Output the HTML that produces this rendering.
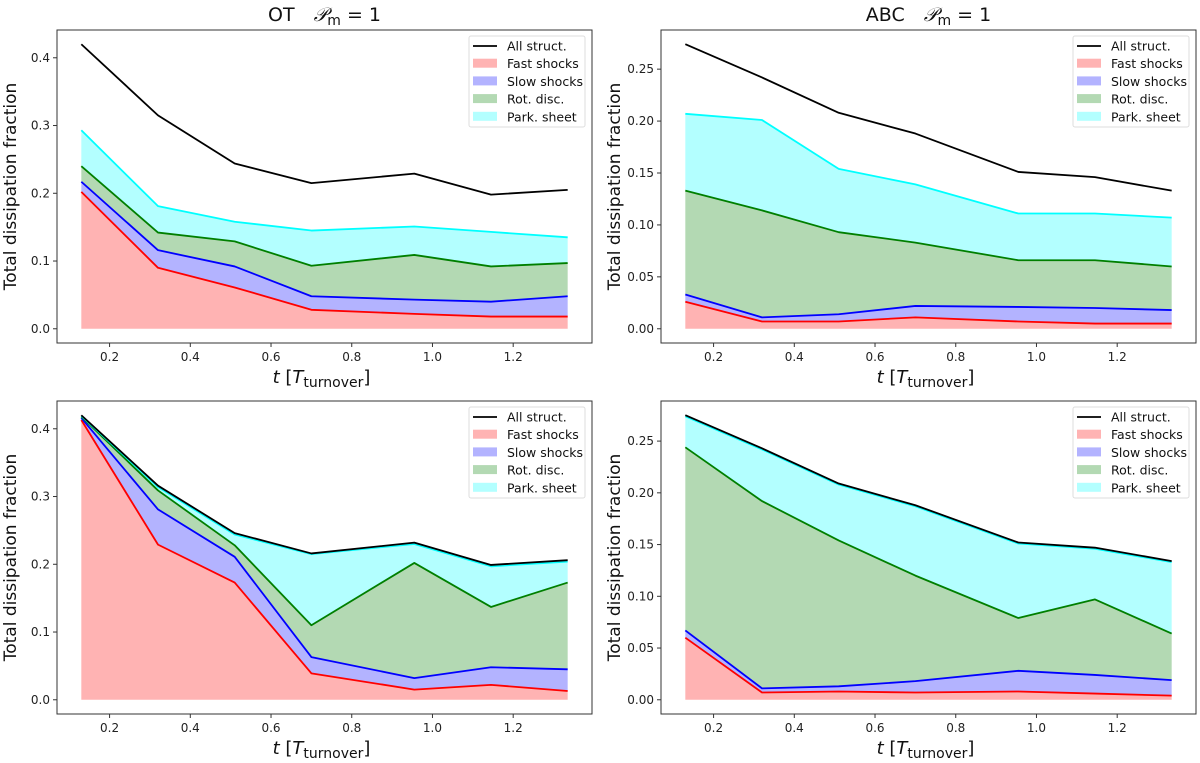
<!DOCTYPE html>
<html><head><meta charset="utf-8"><style>
html,body{margin:0;padding:0;background:#fff;}
svg{display:block;font-family:"DejaVu Sans","Liberation Sans",sans-serif;}
</style></head><body>
<svg id="fig" width="1200" height="763" viewBox="0 0 1200 763" xmlns="http://www.w3.org/2000/svg"></svg>
<script>
const tValues = [0.13, 0.32, 0.51, 0.70, 0.955, 1.145, 1.335];
const xTicks = [0.2, 0.4, 0.6, 0.8, 1.0, 1.2];
const xTickLabels = ["0.2", "0.4", "0.6", "0.8", "1.0", "1.2"];
const otYTicks = [0.0, 0.1, 0.2, 0.3, 0.4];
const otYTickLabels = ["0.0", "0.1", "0.2", "0.3", "0.4"];
const abcYTicks = [0.0, 0.05, 0.10, 0.15, 0.20, 0.25];
const abcYTickLabels = ["0.00", "0.05", "0.10", "0.15", "0.20", "0.25"];
const legendLabels = ["All struct.", "Fast shocks", "Slow shocks", "Rot. disc.", "Park. sheet"];

// Top-left (OT), cumulative
const tlAll   = [0.420, 0.315, 0.244, 0.215, 0.229, 0.198, 0.205];
const tlFast  = [0.202, 0.090, 0.061, 0.028, 0.022, 0.018, 0.018];
const tlSlow  = [0.217, 0.116, 0.092, 0.048, 0.043, 0.040, 0.048];
const tlRot   = [0.240, 0.142, 0.129, 0.093, 0.109, 0.092, 0.097];
const tlPark  = [0.293, 0.181, 0.158, 0.145, 0.151, 0.143, 0.135];
// Top-right (ABC)
const trAll   = [0.274, 0.242, 0.208, 0.188, 0.151, 0.146, 0.133];
const trFast  = [0.026, 0.007, 0.007, 0.011, 0.007, 0.005, 0.005];
const trSlow  = [0.033, 0.011, 0.014, 0.022, 0.021, 0.020, 0.018];
const trRot   = [0.133, 0.114, 0.093, 0.083, 0.066, 0.066, 0.060];
const trPark  = [0.207, 0.201, 0.154, 0.139, 0.111, 0.111, 0.107];
// Bottom-left (OT)
const blAll   = [0.420, 0.316, 0.246, 0.216, 0.232, 0.199, 0.206];
const blFast  = [0.413, 0.229, 0.173, 0.039, 0.015, 0.022, 0.013];
const blSlow  = [0.416, 0.281, 0.211, 0.063, 0.032, 0.048, 0.045];
const blRot   = [0.418, 0.309, 0.228, 0.110, 0.202, 0.137, 0.173];
const blPark  = [0.419, 0.314, 0.244, 0.215, 0.230, 0.197, 0.204];
// Bottom-right (ABC)
const brAll   = [0.275, 0.243, 0.209, 0.188, 0.152, 0.147, 0.134];
const brFast  = [0.060, 0.007, 0.008, 0.007, 0.008, 0.006, 0.004];
const brSlow  = [0.067, 0.011, 0.013, 0.018, 0.028, 0.024, 0.019];
const brRot   = [0.244, 0.192, 0.154, 0.120, 0.079, 0.097, 0.064];
const brPark  = [0.274, 0.242, 0.208, 0.187, 0.151, 0.146, 0.133];

const NS = "http://www.w3.org/2000/svg";
const svg = document.getElementById('fig');
function mk(tag, attrs, parent) {
  const e = document.createElementNS(NS, tag);
  for (const k in attrs) e.setAttribute(k, attrs[k]);
  (parent || svg).appendChild(e);
  return e;
}

const panels = [
  {id:'ot-top', L:57, R:592, T:30, B:343, all:tlAll, fast:tlFast, slow:tlSlow, rot:tlRot, park:tlPark, yt:otYTicks, yl:otYTickLabels, title:'OT'},
  {id:'abc-top', L:661, R:1196, T:30, B:343, all:trAll, fast:trFast, slow:trSlow, rot:trRot, park:trPark, yt:abcYTicks, yl:abcYTickLabels, title:'ABC'},
  {id:'ot-bottom', L:57, R:592, T:401, B:714, all:blAll, fast:blFast, slow:blSlow, rot:blRot, park:blPark, yt:otYTicks, yl:otYTickLabels},
  {id:'abc-bottom', L:661, R:1196, T:401, B:714, all:brAll, fast:brFast, slow:brSlow, rot:brRot, park:brPark, yt:abcYTicks, yl:abcYTickLabels}
];

panels.forEach(p => {
  const g = mk('g', {});
  
  
  const xmin = Math.min(...tValues), xmax = Math.max(...tValues);
  const xm = (xmax - xmin) * 0.05;
  const x0 = xmin - xm, x1 = xmax + xm;
  const ymax = Math.max(...p.all);
  const y0 = -ymax * 0.05, y1 = ymax * 1.05;
  const sx = v => p.L + (v - x0) / (x1 - x0) * (p.R - p.L);
  const sy = v => p.B - (v - y0) / (y1 - y0) * (p.B - p.T);
  const pts = arr => arr.map((v, i) => sx(tValues[i]).toFixed(2) + ',' + sy(v).toFixed(2));
  const band = (lo, hi, fill, name) => {
    const top = pts(hi);
    const bot = lo ? pts(lo).reverse() : [sx(tValues[tValues.length-1]).toFixed(2)+','+sy(0).toFixed(2), sx(tValues[0]).toFixed(2)+','+sy(0).toFixed(2)];
    const e = mk('polygon', {points: top.concat(bot).join(' '), fill: fill, stroke: 'none'}, g);
    
    
  };
  band(null, p.fast, '#ffb3b3', 'fast-shocks-area');
  band(p.fast, p.slow, '#b3b3ff', 'slow-shocks-area');
  band(p.slow, p.rot, '#b3d9b3', 'rot-disc-area');
  band(p.rot, p.park, '#b3ffff', 'park-sheet-area');
  const line = (arr, col, name) => {
    const e = mk('polyline', {points: pts(arr).join(' '), fill: 'none', stroke: col, 'stroke-width': 1.8, 'stroke-linejoin': 'round'}, g);
    
    
  };
  line(p.fast, '#ff0000', 'fast-shocks-line');
  line(p.slow, '#0000ff', 'slow-shocks-line');
  line(p.rot, '#007f00', 'rot-disc-line');
  line(p.park, '#00ffff', 'park-sheet-line');
  line(p.all, '#000000', 'all-struct-line');
  const fr = mk('rect', {x: p.L, y: p.T, width: p.R - p.L, height: p.B - p.T, fill: 'none', stroke: '#333', 'stroke-width': 1}, g);
  
  
  xTicks.forEach((v, i) => {
    const x = sx(v);
    mk('line', {x1: x, x2: x, y1: p.B, y2: p.B + 4, stroke: '#333'}, g);
    const t = mk('text', {x: x, y: p.B + 18, 'font-size': 12, 'text-anchor': 'middle', fill: '#222'}, g);
    t.textContent = xTickLabels[i];
    
    
  });
  p.yt.forEach((v, i) => {
    const y = sy(v);
    mk('line', {x1: p.L - 4, x2: p.L, y1: y, y2: y, stroke: '#333'}, g);
    const t = mk('text', {x: p.L - 7, y: y + 4, 'font-size': 12, 'text-anchor': 'end', fill: '#222'}, g);
    t.textContent = p.yl[i];
    
    
  });
  const cx = (p.L + p.R) / 2;
  const xl = mk('text', {x: cx - 3, y: p.B + 40, 'font-size': 18, 'text-anchor': 'middle', fill: '#111'}, g);
  xl.innerHTML = '<tspan font-style="italic">t</tspan> [<tspan font-style="italic">T</tspan><tspan font-size="14" dy="4">turnover</tspan><tspan dy="-4">]</tspan>';
  
  
  const cy = (p.T + p.B) / 2;
  const yx = p.L - 41;
  const yl = mk('text', {x: yx, y: cy, 'font-size': 17, 'text-anchor': 'middle', fill: '#111', transform: 'rotate(-90 ' + yx + ' ' + cy + ')'}, g);
  yl.textContent = 'Total dissipation fraction';
  
  
  if (p.title) {
    const tt = mk('text', {x: cx, y: p.T - 9, 'font-size': 19, 'text-anchor': 'middle', fill: '#111'}, g);
    tt.innerHTML = p.title + '\u2003<tspan font-style="italic" font-family="Liberation Serif, serif">\u{1D4AB}</tspan><tspan font-size="14" dy="4">m</tspan><tspan dy="-4"> = 1</tspan>';
    
    
  }
  const lg = mk('g', {}, g);
  
  
  const lx = p.R - 123, ly = p.T + 6;
  mk('rect', {x: lx, y: ly, width: 116, height: 91, fill: '#fff', 'fill-opacity': 0.8, stroke: '#ddd', rx: 2}, lg);
  const cols = ['#000', '#ffb3b3', '#b3b3ff', '#b3d9b3', '#b3ffff'];
  legendLabels.forEach((lab, i) => {
    const yy = ly + 10 + i * 17.7;
    if (i === 0) mk('line', {x1: lx + 4, x2: lx + 28, y1: yy, y2: yy, stroke: '#000', 'stroke-width': 1.8}, lg);
    else mk('rect', {x: lx + 4, y: yy - 5, width: 24, height: 9, fill: cols[i]}, lg);
    const t = mk('text', {x: lx + 38, y: yy + 4.5, 'font-size': 12.5, fill: '#111'}, lg);
    t.textContent = lab;
    
    
  });
});
</script>
</body></html>
